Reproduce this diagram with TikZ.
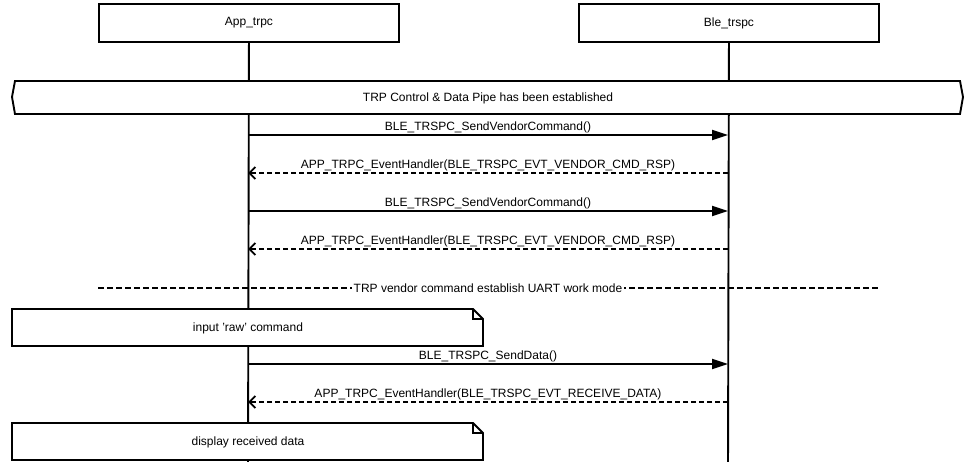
\documentclass[tikz,border=0pt]{standalone}
\usepackage{fontspec}
\setmainfont{Liberation Sans}
\usetikzlibrary{arrows.meta,shapes.misc}
\begin{document}
\begin{tikzpicture}[x=1pt,y=-1pt,
  every node/.style={font=\fontsize{12}{14}\selectfont, inner sep=1pt},
  lw/.style={line width=1.9pt},
  actor/.style={draw, lw, fill=white, minimum width=300pt, minimum height=38pt, anchor=north west, inner sep=0pt},
  msg/.style={lw, -{Triangle[length=16pt,width=10pt]}},
  ret/.style={lw, dashed, dash pattern=on 5pt off 3pt, -{Straight Barb[length=6pt,width=12pt,line width=1.9pt]}},
  lbl/.style={above=0.5pt, midway},
  notebox/.style={lw, fill=white}
]
\useasboundingbox (0,0) rectangle (976,462);
% actors
\node[actor] (app) at (98,3) {App\_trpc};
\node[actor] (ble) at (578,3) {Ble\_trspc};
\coordinate (append) at (248,470);
\coordinate (bleend) at (728,470);
\draw[lw] (app.south) -- (append);
\draw[lw] (ble.south) -- (bleend);
% hexagon
\draw[lw, fill=white] (15,81) -- (960,81) -- (963,97) -- (960,114) -- (15,114) -- (12,97) -- cycle;
\node (hex) at (488,98) {TRP Control \& Data Pipe has been established};
% messages
\coordinate (a1) at (248,135); \coordinate (b1) at (728,135);
\coordinate (a2) at (248,173); \coordinate (b2) at (728,173);
\coordinate (a3) at (248,211); \coordinate (b3) at (728,211);
\coordinate (a4) at (248,249); \coordinate (b4) at (728,249);
\coordinate (a5) at (248,364); \coordinate (b5) at (728,364);
\coordinate (a6) at (248,402); \coordinate (b6) at (728,402);
\draw[msg] (a1) -- node[lbl] {BLE\_TRSPC\_SendVendorCommand()} (b1);
\draw[ret] (b2) -- node[lbl] {APP\_TRPC\_EventHandler(BLE\_TRSPC\_EVT\_VENDOR\_CMD\_RSP)} (a2);
\draw[msg] (a3) -- node[lbl] {BLE\_TRSPC\_SendVendorCommand()} (b3);
\draw[ret] (b4) -- node[lbl] {APP\_TRPC\_EventHandler(BLE\_TRSPC\_EVT\_VENDOR\_CMD\_RSP)} (a4);
% divider
\coordinate (d1) at (98,288); \coordinate (d2) at (878,288);
\draw[lw, dashed, dash pattern=on 6pt off 3pt] (d1) -- (d2);
\node[fill=white, inner sep=2pt] (div) at (488,288.5) {TRP vendor command establish UART work mode};
% note 1
\draw[notebox] (12,309) -- (473,309) -- (483,319) -- (483,346) -- (12,346) -- cycle;
\draw[lw] (473,309) -- (473,319) -- (483,319);
\node (n1) at (248,328) {input 'raw' command};
\draw[msg] (a5) -- node[lbl] {BLE\_TRSPC\_SendData()} (b5);
\draw[ret] (b6) -- node[lbl] {APP\_TRPC\_EventHandler(BLE\_TRSPC\_EVT\_RECEIVE\_DATA)} (a6);
% note 2
\draw[notebox] (12,423) -- (473,423) -- (483,433) -- (483,460) -- (12,460) -- cycle;
\draw[lw] (473,423) -- (473,433) -- (483,433);
\node (n2) at (248,442) {display received data};
\end{tikzpicture}
\end{document}
